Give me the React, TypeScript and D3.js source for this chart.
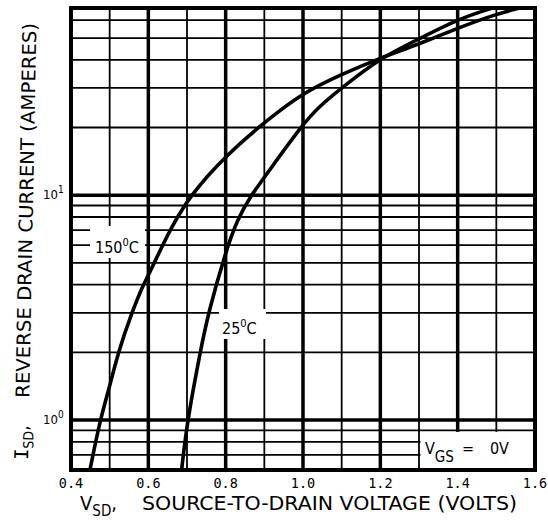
import React, { useRef, useEffect } from "react";
import * as d3 from "d3";

// reverse diode forward characteristic
const volts150 = [0.449, 0.475, 0.5, 0.522, 0.557, 0.587, 0.6, 0.637, 0.656, 0.708, 0.8, 0.9, 1.0, 1.1, 1.2, 1.3, 1.4, 1.5, 1.56];
const amps150 = [0.6, 1.0, 1.41, 2, 3, 4, 4.4, 6, 7, 10, 15, 21.1, 28.6, 34.5, 40.8, 47, 55.4, 63.9, 68];

const volts25 = [0.686, 0.701, 0.734, 0.755, 0.8, 0.83, 0.866, 0.9, 1.0, 1.044, 1.1, 1.2, 1.3, 1.4, 1.49];
const amps25 = [0.6, 1.0, 2, 3, 5.6, 7.8, 10, 12, 20.8, 25, 30, 40.8, 49.5, 60.7, 68];

const xTicks = [0.4, 0.6, 0.8, 1.0, 1.2, 1.4, 1.6];
const xGrid = [0.5, 0.6, 0.7, 0.8, 0.9, 1.0, 1.1, 1.2, 1.3, 1.4, 1.5];
const yGrid = [0.7, 0.8, 0.9, 1, 2, 3, 4, 5, 6, 7, 8, 9, 10, 20, 30, 40, 50, 60];
const yDecades = [1, 10];

const W = 548;
const H = 520;
const plot = { left: 71, right: 535, top: 8, bottom: 470 };

const App = () => {
  const svgRef = useRef(null);

  useEffect(() => {
    document.body.style.margin = "0";
    const svg = d3.select(svgRef.current);
    svg.selectAll("*").remove();

    const x = d3.scaleLinear().domain([0.4, 1.6]).range([plot.left, plot.right]);
    const y = d3.scaleLog().domain([0.6, 68]).range([plot.bottom, plot.top]);

    const sans = "'DejaVu Sans Condensed', 'DejaVu Sans', sans-serif";
    const mono = "'DejaVu Sans Mono', monospace";

    svg.append("rect").attr("width", W).attr("height", H).attr("fill", "#fff");

    // grid
    const grid = svg.append("g").attr("stroke", "#000");
    xGrid.forEach((v) => {
      const major = Math.round(v * 10) % 2 === 0;
      grid
        .append("line")
        .attr("x1", x(v)).attr("x2", x(v))
        .attr("y1", plot.top).attr("y2", plot.bottom)
        .attr("stroke-width", major ? 3.5 : 1.8);
    });
    yGrid.forEach((v) => {
      const major = yDecades.includes(v);
      grid
        .append("line")
        .attr("x1", plot.left).attr("x2", plot.right)
        .attr("y1", y(v)).attr("y2", y(v))
        .attr("stroke-width", major ? 3.5 : 1.8);
    });

    // white patches behind the in-plot labels
    svg.append("rect").attr("x", 90).attr("y", 226).attr("width", 55).attr("height", 32).attr("fill", "#fff");
    svg.append("rect").attr("x", 219).attr("y", 309).attr("width", 47).attr("height", 30).attr("fill", "#fff");
    svg.append("rect")
      .attr("x", x(1.3) + 1.5).attr("y", y(0.9) + 1.5)
      .attr("width", plot.right - x(1.3) - 1.5).attr("height", plot.bottom - y(0.9) - 1.5)
      .attr("fill", "#fff");

    // curves
    const line = d3
      .line()
      .x((d) => x(d[0]))
      .y((d) => y(d[1]))
      .curve(d3.curveBasis);
    [
      d3.zip(volts150, amps150),
      d3.zip(volts25, amps25),
    ].forEach((pts) => {
      svg
        .append("path")
        .attr("d", line(pts))
        .attr("fill", "none")
        .attr("stroke", "#000")
        .attr("stroke-width", 3.6)
        .attr("stroke-linecap", "round");
    });

    // frame
    svg
      .append("rect")
      .attr("x", plot.left).attr("y", plot.top)
      .attr("width", plot.right - plot.left).attr("height", plot.bottom - plot.top)
      .attr("fill", "none").attr("stroke", "#000").attr("stroke-width", 4);

    // x tick labels
    svg
      .append("g")
      .selectAll("text")
      .data(xTicks)
      .join("text")
      .attr("x", (d) => x(d))
      .attr("y", 488)
      .attr("text-anchor", "middle")
      .attr("font-family", mono)
      .attr("font-size", 13.5)
      .text((d) => d.toFixed(1));

    // y tick labels 10^n
    yDecades.forEach((v) => {
      const t = svg
        .append("text")
        .attr("x", 43)
        .attr("y", y(v) + 4)
        .attr("font-family", sans)
        .attr("font-size", 13);
      t.append("tspan").text("10");
      t.append("tspan").attr("dy", -6).attr("font-size", 10).text(String(Math.log10(v)));
    });

    // in-plot labels
    const label = (tx, ty, a, b) => {
      const t = svg.append("text").attr("x", tx).attr("y", ty).attr("font-family", sans).attr("font-size", 16);
      t.append("tspan").text(a);
      t.append("tspan").attr("dy", -7).attr("font-size", 11).text("0");
      t.append("tspan").attr("dy", 7).text(b);
    };
    label(95, 253, "150", "C");
    label(222, 334, "25", "C");

    const vgs = svg.append("text").attr("x", 425).attr("y", 454).attr("font-family", sans).attr("font-size", 16);
    vgs.append("tspan").text("V");
    vgs.append("tspan").attr("dy", 8).attr("font-size", 15).text("GS");
    vgs.append("tspan").attr("dy", -8).attr("dx", 8).text("=");
    vgs.append("tspan").attr("dx", 16).text("0V");

    // x axis title
    const xt = svg.append("text").attr("x", 80).attr("y", 510).attr("font-family", sans).attr("font-size", 20);
    xt.append("tspan").text("V");
    xt.append("tspan").attr("dy", 6).attr("font-size", 15).text("SD");
    xt.append("tspan").attr("dy", -6).text(",");
    svg
      .append("text")
      .attr("x", 142)
      .attr("y", 510)
      .attr("font-family", sans)
      .attr("font-size", 20)
      .attr("textLength", 375)
      .attr("lengthAdjust", "spacingAndGlyphs")
      .text("SOURCE-TO-DRAIN VOLTAGE (VOLTS)");

    // y axis title (scan is tilted a little)
    const yt = svg.append("g").attr("transform", "translate(28,460) rotate(-88.9)");
    const yl = yt.append("text").attr("x", 0).attr("y", 0).attr("font-size", 19);
    yl.append("tspan").attr("font-family", mono).text("I");
    yl.append("tspan").attr("font-family", sans).attr("dy", 5).attr("font-size", 14).text("SD");
    yl.append("tspan").attr("font-family", sans).attr("dy", -5).text(",");
    yt.append("text")
      .attr("x", 62)
      .attr("y", 0)
      .attr("font-family", sans)
      .attr("font-size", 19)
      .attr("textLength", 375)
      .attr("lengthAdjust", "spacingAndGlyphs")
      .text("REVERSE DRAIN CURRENT (AMPERES)");
  }, []);

  return <svg ref={svgRef} width={W} height={H} style={{ display: "block" }}></svg>;
};

export default App;
